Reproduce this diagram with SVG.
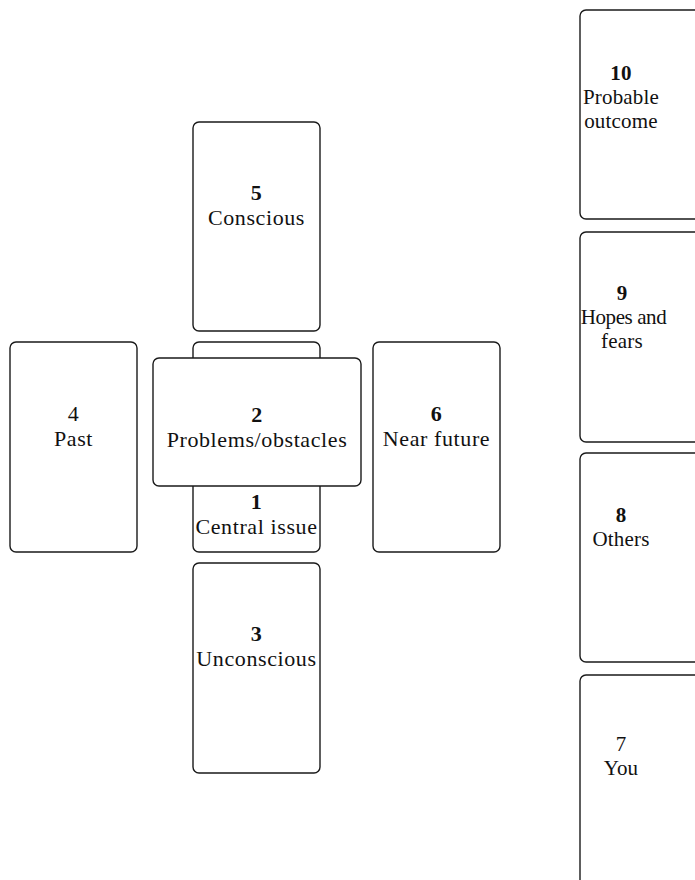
<svg xmlns="http://www.w3.org/2000/svg" width="695" height="880" viewBox="0 0 695 880">
<style>
.card{fill:#fff;stroke:#1a1a1a;stroke-width:1.4}
text{font-family:"Liberation Serif","Times New Roman",serif;font-size:22px;letter-spacing:0.6px;fill:#111;text-anchor:middle}
.r text{font-size:21px;letter-spacing:0.2px}
.n{font-weight:bold}
.l{font-weight:normal}
</style>
<rect width="695" height="880" fill="#fff"/>
<g id="connectors"/>
<g id="card5">
<rect class="card" x="193" y="122" width="127" height="209" rx="6"/>
<text x="256.5" y="200" class="n">5</text>
<text x="256.5" y="225">Conscious</text>
</g>
<g id="card1">
<rect class="card" x="193" y="342" width="127" height="210" rx="6"/>
<text x="256.5" y="509" class="n">1</text>
<text x="256.5" y="534">Central issue</text>
</g>
<g id="card2">
<rect class="card" x="153" y="358" width="208" height="128" rx="6"/>
<text x="257" y="422" class="n">2</text>
<text x="257" y="447">Problems/obstacles</text>
</g>
<g id="card4">
<rect class="card" x="10" y="342" width="127" height="210" rx="6"/>
<text x="73.5" y="421" class="l">4</text>
<text x="73.5" y="446">Past</text>
</g>
<g id="card6">
<rect class="card" x="373" y="342" width="127" height="210" rx="6"/>
<text x="436.5" y="421" class="n">6</text>
<text x="436.5" y="446">Near future</text>
</g>
<g id="card3">
<rect class="card" x="193" y="563" width="127" height="210" rx="6"/>
<text x="256.5" y="641" class="n">3</text>
<text x="256.5" y="666">Unconscious</text>
</g>
<g id="card10" class="r">
<rect class="card" x="580" y="10" width="140" height="209" rx="6"/>
<text x="621" y="80" class="n">10</text>
<text x="621" y="104">Probable</text>
<text x="621" y="128">outcome</text>
</g>
<g id="card9" class="r">
<rect class="card" x="580" y="232" width="140" height="210" rx="6"/>
<text x="622" y="300" class="n">9</text>
<text x="623.5" y="324" style="letter-spacing:-0.4px">Hopes and</text>
<text x="622" y="348">fears</text>
</g>
<g id="card8" class="r">
<rect class="card" x="580" y="453" width="140" height="209" rx="6"/>
<text x="621" y="522" class="n">8</text>
<text x="621" y="546">Others</text>
</g>
<g id="card7" class="r">
<rect class="card" x="580" y="675" width="140" height="215" rx="6"/>
<text x="621" y="751" class="l">7</text>
<text x="621" y="775">You</text>
</g>
</svg>
